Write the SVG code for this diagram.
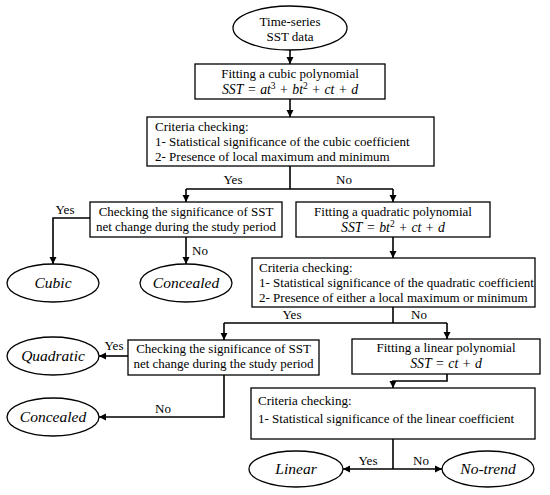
<svg xmlns="http://www.w3.org/2000/svg" width="550" height="495" viewBox="0 0 550 495" font-family="Liberation Serif, DejaVu Serif, Times New Roman, Times, serif">
<defs>
<style>
.b{fill:#fff;stroke:#000;stroke-width:1.3}
.c{fill:none;stroke:#000;stroke-width:1.6}
.t{font-size:13px;fill:#000}
.m{text-anchor:middle}
.i{font-style:italic}
.q{font-size:13.8px;word-spacing:1px}
.o{font-size:15.5px;font-style:italic;text-anchor:middle;fill:#000}
.s{font-size:9.5px}
</style>
<marker id="a" markerUnits="userSpaceOnUse" markerWidth="8" markerHeight="8" refX="7" refY="4" orient="auto">
<path d="M0,0.5 L7,4 L0,7.5 z" fill="#000"/>
</marker>
</defs>
<rect width="550" height="495" fill="#fff"/>

<g id="connectors">
<line class="c" x1="290" y1="50" x2="290" y2="64" marker-end="url(#a)"/>
<line class="c" x1="290" y1="99" x2="290" y2="117" marker-end="url(#a)"/>
<polyline class="c" points="290,166 290,189"/>
<polyline class="c" points="186,189 393,189"/>
<line class="c" x1="186" y1="189" x2="186" y2="202" marker-end="url(#a)"/>
<line class="c" x1="393" y1="189" x2="393" y2="202" marker-end="url(#a)"/>
<polyline class="c" points="90,218 53,218 53,264" marker-end="url(#a)"/>
<line class="c" x1="186" y1="237" x2="186" y2="264" marker-end="url(#a)"/>
<line class="c" x1="393" y1="237" x2="393" y2="258" marker-end="url(#a)"/>
<polyline class="c" points="393,307 393,323"/>
<polyline class="c" points="224,323 447,323"/>
<line class="c" x1="224" y1="323" x2="224" y2="340" marker-end="url(#a)"/>
<line class="c" x1="447" y1="323" x2="447" y2="339" marker-end="url(#a)"/>
<line class="c" x1="128" y1="356" x2="99" y2="356" marker-end="url(#a)"/>
<polyline class="c" points="224,375 224,417 99,417" marker-end="url(#a)"/>
<polyline class="c" points="447,374 447,381 393,381 393,388" marker-end="url(#a)"/>
<polyline class="c" points="393,439 393,469"/>
<line class="c" x1="393" y1="469" x2="343" y2="469" marker-end="url(#a)"/>
<line class="c" x1="393" y1="469" x2="442" y2="469" marker-end="url(#a)"/>
<text class="t m" x="233" y="184">Yes</text>
<text class="t m" x="344" y="184">No</text>
<text class="t m" x="65" y="214">Yes</text>
<text class="t" x="192" y="255">No</text>
<text class="t m" x="292" y="319">Yes</text>
<text class="t m" x="419" y="319">No</text>
<text class="t m" x="114" y="350">Yes</text>
<text class="t m" x="163" y="413">No</text>
<text class="t m" x="368" y="465">Yes</text>
<text class="t m" x="421" y="465">No</text>
</g>

<g id="start">
<ellipse class="b" cx="290" cy="28" rx="57" ry="22"/>
<text class="t m" x="290" y="26">Time-series</text>
<text class="t m" x="290" y="41">SST data</text>
</g>

<g id="fit-cubic">
<rect class="b" x="195" y="64" width="190" height="35"/>
<text class="t m" x="290" y="78">Fitting a cubic polynomial</text>
<text class="t m q" x="290" y="94"><tspan class="i">SST</tspan> = <tspan class="i">at</tspan><tspan class="s" dy="-5">3</tspan><tspan dy="5"> + </tspan><tspan class="i">bt</tspan><tspan class="s" dy="-5">2</tspan><tspan dy="5"> + </tspan><tspan class="i">ct</tspan> + <tspan class="i">d</tspan></text>
</g>

<g id="criteria-cubic">
<rect class="b" x="147" y="117" width="287" height="49"/>
<text class="t" x="155" y="131">Criteria checking:</text>
<text class="t" x="155" y="146">1- Statistical significance of the cubic coefficient</text>
<text class="t" x="155" y="161">2- Presence of local maximum and minimum</text>
</g>

<g id="check-1">
<rect class="b" x="90" y="202" width="192" height="35"/>
<text class="t m" x="186" y="216">Checking the significance of SST</text>
<text class="t m" x="186" y="231">net change during the study period</text>
</g>

<g id="cubic">
<ellipse class="b" cx="53" cy="283" rx="46" ry="19"/>
<text class="o" x="53" y="288">Cubic</text>
</g>

<g id="concealed-1">
<ellipse class="b" cx="186" cy="283" rx="46" ry="19"/>
<text class="o" x="186" y="288">Concealed</text>
</g>

<g id="fit-quadratic">
<rect class="b" x="296" y="202" width="194" height="35"/>
<text class="t m" x="393" y="216">Fitting a quadratic polynomial</text>
<text class="t m q" x="393" y="232"><tspan class="i">SST</tspan> = <tspan class="i">bt</tspan><tspan class="s" dy="-5">2</tspan><tspan dy="5"> + </tspan><tspan class="i">ct</tspan> + <tspan class="i">d</tspan></text>
</g>

<g id="criteria-quadratic">
<rect class="b" x="252" y="258" width="283" height="49"/>
<text class="t" x="259" y="272">Criteria checking:</text>
<text class="t" x="259" y="287">1- Statistical significance of the quadratic coefficient</text>
<text class="t" x="259" y="302">2- Presence of either a local maximum or minimum</text>
</g>

<g id="check-2">
<rect class="b" x="128" y="340" width="191" height="35"/>
<text class="t m" x="223.5" y="353">Checking the significance of SST</text>
<text class="t m" x="223.5" y="368">net change during the study period</text>
</g>

<g id="quadratic">
<ellipse class="b" cx="53" cy="356" rx="46" ry="19"/>
<text class="o" x="53" y="361">Quadratic</text>
</g>

<g id="concealed-2">
<ellipse class="b" cx="53" cy="417" rx="46" ry="19"/>
<text class="o" x="53" y="422">Concealed</text>
</g>

<g id="fit-linear">
<rect class="b" x="352" y="339" width="188" height="35"/>
<text class="t m" x="446" y="352">Fitting a linear polynomial</text>
<text class="t m q" x="446" y="368"><tspan class="i">SST</tspan> = <tspan class="i">ct</tspan> + <tspan class="i">d</tspan></text>
</g>

<g id="criteria-linear">
<rect class="b" x="251" y="388" width="284" height="51"/>
<text class="t" x="258" y="405">Criteria checking:</text>
<text class="t" x="258" y="423">1- Statistical significance of the linear coefficient</text>
</g>

<g id="linear">
<ellipse class="b" cx="296" cy="469" rx="47" ry="18"/>
<text class="o" x="296" y="474">Linear</text>
</g>

<g id="no-trend">
<ellipse class="b" cx="488" cy="469" rx="46" ry="18"/>
<text class="o" x="488" y="474">No-trend</text>
</g>
</svg>
